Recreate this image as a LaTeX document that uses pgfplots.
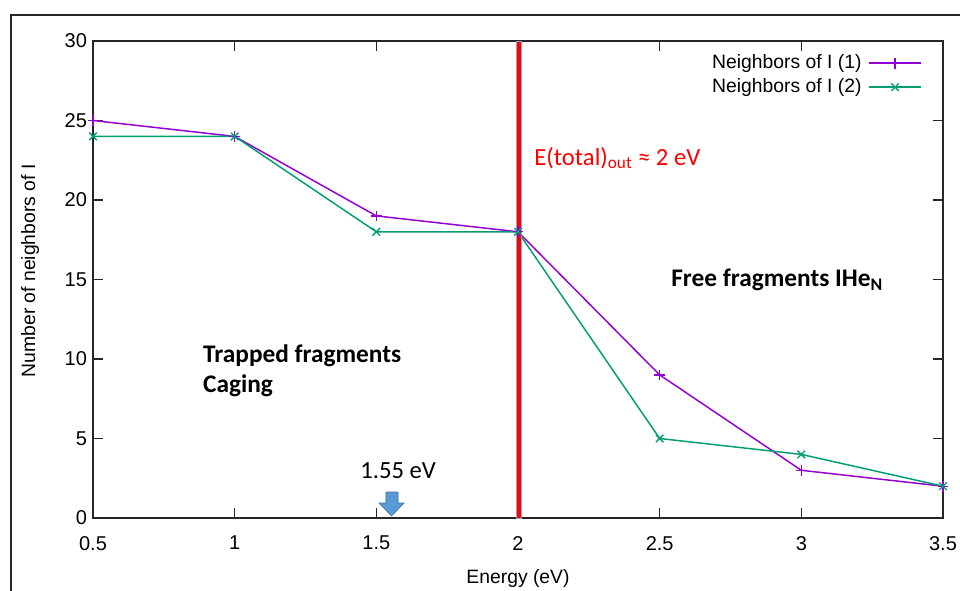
\documentclass[border=0pt]{standalone}
\usepackage{fontspec}
\setmainfont{Liberation Sans}
\newfontfamily\calibri{Carlito}
\usepackage{pgfplots}
\pgfplotsset{compat=1.18}
\definecolor{cpurple}{HTML}{9400D3}
\definecolor{cgreen}{HTML}{009E73}
\definecolor{arrowblue}{HTML}{5B9BD5}
\definecolor{arrowedge}{HTML}{41719C}
\definecolor{barborder}{HTML}{8FA8C8}
\begin{document}
\begin{tikzpicture}
\useasboundingbox (0,0) rectangle (720pt,442.5pt);
\draw[line width=0.9pt, black!85] (8.25pt,-2pt) -- (8.25pt,431.25pt) -- (722pt,431.25pt);
\begin{axis}[
  at={(69.75pt,54pt)}, anchor=south west,
  width=637.5pt, height=357.75pt, scale only axis,
  xmin=0.5, xmax=3.5, ymin=0, ymax=30,
  xtick={0.5,1,1.5,2,2.5,3,3.5},
  ytick={0,5,10,15,20,25,30},
  tick align=inside, major tick length=7.5pt,
  axis line style={line width=1.1pt, black!85},
  every tick/.style={black!85, line width=1pt},
  tick label style={font=\fontsize{15}{18}\selectfont},
  /pgf/number format/assume math mode=true,
  xticklabel style={yshift=-10pt},
  yticklabel style={xshift=-1pt},
  scaled ticks=false,
  xlabel={Energy (eV)},
  ylabel={Number of neighbors of I},
  label style={font=\fontsize{14.5}{17}\selectfont},
  x label style={at={(axis description cs:0.5,0)}, anchor=center, yshift=-45pt},
  y label style={at={(axis description cs:-0.0741,0.518)}, anchor=center},
  legend plot pos=right,
  legend cell align=right,
  legend style={at={(0.98,0.982)}, anchor=north east, draw=none, fill=none,
    font=\fontsize{14.5}{17}\selectfont,
    nodes={inner sep=1pt, text height=11pt, text depth=3pt},
    row sep=2pt, /tikz/column sep=4pt},
  legend image code/.code={\draw[mark repeat=2,mark phase=2,#1] plot coordinates {(0pt,0pt) (19.5pt,0pt) (39pt,0pt)};},
]
\addplot[cpurple, line width=1.1pt, mark=+, mark size=4pt, mark options={line width=1pt}]
  coordinates {(0.5,25) (1,24) (1.5,19) (2,18) (2.5,9) (3,3) (3.5,2)};
\addlegendentry{Neighbors of I (1)}
\addplot[cgreen, line width=1.1pt, mark=x, mark size=4pt, mark options={line width=1pt}]
  coordinates {(0.5,24) (1,24) (1.5,18) (2,18) (2.5,5) (3,4) (3.5,2)};
\addlegendentry{Neighbors of I (2)}
\filldraw[fill=red, draw=barborder, line width=0.6pt] (axis cs:1.993,0) rectangle (axis cs:2.013,30);
\filldraw[fill=arrowblue, draw=arrowedge, line width=0.5pt]
  (axis cs:1.534,1.635) -- (axis cs:1.5765,1.635) -- (axis cs:1.5765,0.943) -- (axis cs:1.5977,0.943)
  -- (axis cs:1.5536,0.126) -- (axis cs:1.5094,0.943) -- (axis cs:1.534,0.943) -- cycle;
\node[anchor=west, inner sep=0, font=\calibri\bfseries\fontsize{19}{23}\selectfont] at (axis cs:0.888,10.2) {Trapped fragments};
\node[anchor=west, inner sep=0, font=\calibri\bfseries\fontsize{19}{23}\selectfont] at (axis cs:0.888,8.3) {Caging};
\node[anchor=west, inner sep=0, font=\calibri\bfseries\fontsize{19}{23}\selectfont] at (axis cs:2.54,14.97) {Free fragments IHe\textsubscript{N}};
\node[anchor=west, inner sep=0, text=red, font=\calibri\fontsize{18.5}{22}\selectfont] at (axis cs:2.057,22.64) {E(total)\textsubscript{out} ≈ 2 eV};
\node[anchor=center, inner sep=0, font=\calibri\fontsize{18.5}{22}\selectfont] at (axis cs:1.577,3.0) {1.55 eV};
\end{axis}
\end{tikzpicture}
\end{document}
